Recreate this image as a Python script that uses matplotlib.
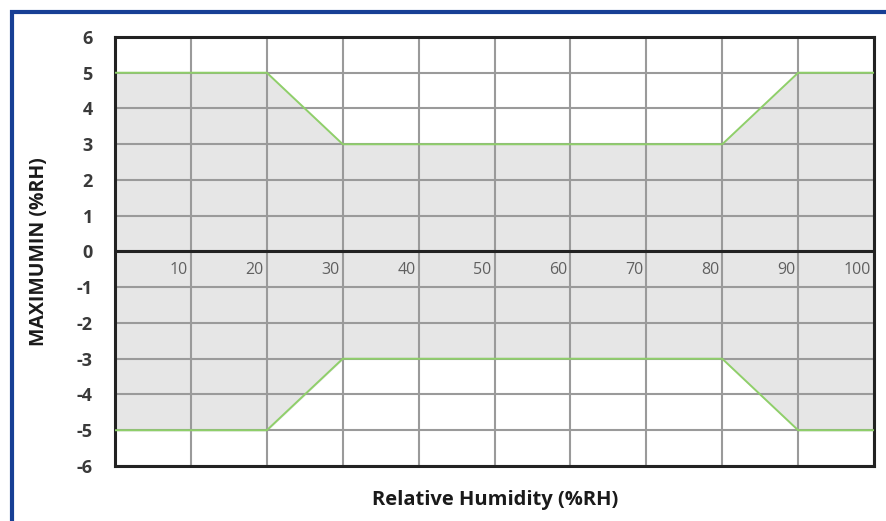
import matplotlib.pyplot as plt
from matplotlib.patches import Rectangle

# Tolerance band (max / min) vs relative humidity
rh = [0, 20, 30, 80, 90, 100]
upper = [5, 5, 3, 3, 5, 5]
lower = [-5, -5, -3, -3, -5, -5]

x_ticks = [10, 20, 30, 40, 50, 60, 70, 80, 90, 100]
y_ticks = [6, 5, 4, 3, 2, 1, 0, -1, -2, -3, -4, -5, -6]


def main():
    plt.rcParams['font.family'] = ['Open Sans', 'DejaVu Sans']
    plt.rcParams['axes.unicode_minus'] = False
    fig = plt.figure(figsize=(8.87, 5.21), dpi=100)
    ax = fig.add_axes([0.1297, 0.1056, 0.8557, 0.8234])

    ax.fill_between(rh, 0, upper, color='#e6e6e6', zorder=0)
    ax.fill_between(rh, 0, lower, color='#e6e6e6', zorder=0)

    ax.set_xlim(0, 100)
    ax.set_ylim(-6, 6)
    ax.set_xticks(x_ticks)
    ax.set_yticks(y_ticks)
    ax.grid(True, color='#9a9a9a', lw=1.5, zorder=1)
    ax.set_axisbelow(True)

    ax.plot(rh, upper, color='#8fcf6a', lw=1.4, zorder=3)
    ax.plot(rh, lower, color='#8fcf6a', lw=1.4, zorder=3)
    ax.axhline(0, color='#222222', lw=2.2, zorder=4)

    for s in ax.spines.values():
        s.set_color('#222222')
        s.set_linewidth(2.2)

    ax.tick_params(axis='x', length=0, labelbottom=False)
    ax.tick_params(axis='y', length=0, pad=16, labelsize=13,
                   labelcolor='#3a3a3a')
    for lab in ax.get_yticklabels():
        lab.set_fontweight('bold')

    # x labels sit just under the zero line, left of each grid line
    for x in x_ticks:
        ax.text(x - 0.4, -0.3, str(x), ha='right', va='top',
                fontsize=11.5, color='#606060', zorder=5)

    ax.set_ylabel('MAXIMUMIN (%RH)', fontsize=14, fontweight='bold',
                  color='#1a1a1a', labelpad=20)
    fig.text(0.558, 0.03, 'Relative Humidity (%RH)', ha='center',
             fontsize=14.5, fontweight='bold', color='#1a1a1a')

    # blue frame around the picture
    fig.patches.append(Rectangle((12 / 887, -0.1), 1.2, 1.1 - 12 / 521,
                                 transform=fig.transFigure, fill=False,
                                 edgecolor='#173f95', lw=3))

    fig.savefig('out.png', dpi=100)


if __name__ == '__main__':
    main()
